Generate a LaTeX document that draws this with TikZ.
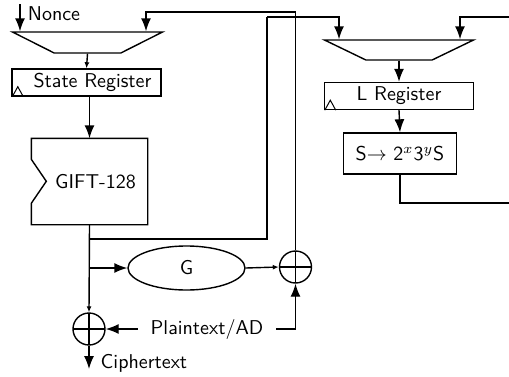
\documentclass[tikz,border=0pt]{standalone}
\usetikzlibrary{arrows.meta,shapes.geometric}

\begin{document}
\begin{tikzpicture}[x=0.5pt,y=-0.5pt,font=\sffamily,line width=0.7pt,
  bigarr/.style={-{Latex[length=6.5pt,width=5pt]}},
  smallarr/.style={-{Latex[length=3pt,width=2.5pt]}},
  reg/.style={draw,minimum width=74.5pt,minimum height=13.5pt,inner sep=0pt},
  mux/.style={draw,trapezium,shape border rotate=180,trapezium stretches=true,
    trapezium angle=58,minimum width=75pt,minimum height=10.5pt,inner sep=1pt},
  xor/.style={draw,circle,minimum size=16pt,inner sep=0pt,
    path picture={\draw[line width=0.9pt] (path picture bounding box.north) -- (path picture bounding box.south)
      (path picture bounding box.west) -- (path picture bounding box.east);}}]
  \useasboundingbox (0,0) rectangle (509,376);
  \node[mux] (muxL) at (87.5,42.5) {};
  \node[reg] (stateReg) at (86.5,82.5) {\hspace{6pt}State Register};
  \node[minimum width=57.5pt,minimum height=42.5pt,inner sep=0pt] (gift) at (89.5,181.5) {\hspace{6pt}GIFT-128};
  \node[mux,minimum width=74.5pt,minimum height=10pt] (muxR) at (399,50) {};
  \node[reg] (lReg) at (399,96) {L Register};
  \node[draw,minimum width=56.5pt,minimum height=20.5pt,inner sep=0pt] (sBox) at (400,153.5) {S$\rightarrow$ 2$^x$3$^y$S};
  \node[draw,ellipse,minimum width=58.5pt,minimum height=22pt,inner sep=0pt] (gFun) at (186.5,268) {G};
  \node[xor] (xorR) at (295.5,267) {};
  \node[xor] (xorL) at (89,329) {};
  \node[inner xsep=6pt] (pt) at (207,329) {Plaintext/AD};
  \node[anchor=west,inner sep=0pt] (ct) at (100,363) {Ciphertext};
  \node[inner sep=0pt] (nonce) at (54,14) {Nonce};
  \coordinate (nonceIn) at (20,4);
  \coordinate (fbTop) at (146,12);
  \coordinate (tapA) at (89.5,239);
  \coordinate (upX) at (267,17);
  \coordinate (lIn) at (339,17);
  \coordinate (rIn) at (509,17);
  \coordinate (sIn) at (460,17);
  \coordinate (sOut) at (509,203);
  \coordinate (ctOut) at (89,369);
  % GIFT box with notch
  \draw (gift.south west) -- (gift.south east) -- (gift.north east) -- (gift.north west)
    -- ++(0,21) -- ++(15,22) -- ++(-15,22) -- cycle;
  % clock inputs
  \draw[line width=0.5pt] ([xshift=0.5pt]stateReg.south west) -- ++(5.5,-10) -- ++(5.5,10);
  \draw[line width=0.5pt] ([xshift=0.5pt]lReg.south west) -- ++(5.5,-10) -- ++(5.5,10);
  % left datapath
  \draw[bigarr] (nonceIn) -- (nonceIn |- muxL.north);
  \draw[bigarr] (xorR.north) |- (fbTop) -- (fbTop |- muxL.north);
  \draw[smallarr] (muxL.south) -- (stateReg.north);
  \draw[bigarr] (gift.north |- stateReg.south) -- (gift.north);
  \draw[smallarr] (gift.south) -- (xorL.north);
  \draw (tapA) -| (upX);
  \draw[bigarr] (upX) -- (lIn) -- (lIn |- muxR.north);
  \draw[bigarr] (gift.south |- gFun.west) -- (gFun.west);
  \draw[smallarr] (gFun.east) -- (xorR.west);
  \draw[bigarr] (pt.west) -- (xorL.east);
  \draw[bigarr] (pt.east) -| (xorR.south);
  \draw[bigarr] (xorL.south) -- (ctOut);
  % right datapath
  \draw[bigarr] (rIn) -- (sIn) -- (sIn |- muxR.north);
  \draw[bigarr] (muxR.south) -- (lReg.north);
  \draw[bigarr] (lReg.south) -- (sBox.north);
  \draw (sBox.south) |- (sOut);
\end{tikzpicture}
\end{document}
